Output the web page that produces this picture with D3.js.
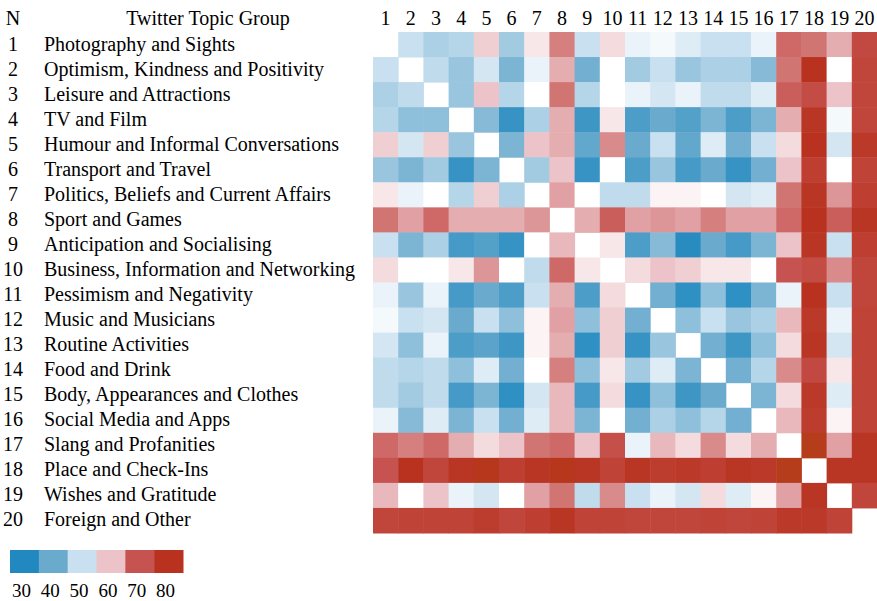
<!DOCTYPE html>
<html>
<head>
<meta charset="utf-8">
<script src="https://cdn.jsdelivr.net/npm/d3@7"></script>
<style>
  body { margin: 0; background: #fff; }
  svg { display: block; font-family: "Liberation Serif", "Times New Roman", serif; }
</style>
</head>
<body>
<div id="chart"></div>
<script>
// topic groups, numbered 1..20
let topics = [
  "Photography and Sights",
  "Optimism, Kindness and Positivity",
  "Leisure and Attractions",
  "TV and Film",
  "Humour and Informal Conversations",
  "Transport and Travel",
  "Politics, Beliefs and Current Affairs",
  "Sport and Games",
  "Anticipation and Socialising",
  "Business, Information and Networking",
  "Pessimism and Negativity",
  "Music and Musicians",
  "Routine Activities",
  "Food and Drink",
  "Body, Appearances and Clothes",
  "Social Media and Apps",
  "Slang and Profanities",
  "Place and Check-Ins",
  "Wishes and Gratitude",
  "Foreign and Other"
];

let ids = d3.range(1, 21);

// cell values, row by row (null = blank diagonal)
let values = [
  [null,50,47,48,59,46,57,66,50,58, 53,54,52,50,50,53,68,67,62,73],
  [50,null,49,45,51,42,53,62,41,55, 46,50,45,47,47,43,67,80,55,74],
  [47,49,null,45,60,48,55,67,48,55, 53,51,53,49,49,52,69,72,60,74],
  [48,44,44,null,43,33,47,62,34,57, 36,40,37,42,36,42,62,79,54,74],
  [59,51,59,45,null,42,60,62,39,65, 40,50,39,52,41,50,58,80,51,78],
  [45,42,46,33,42,null,46,60,33,55, 36,45,35,40,33,41,60,76,55,75],
  [57,53,55,48,59,47,null,63,55,49, 49,56,56,55,51,52,67,79,64,76],
  [67,63,68,62,62,62,64,null,62,69, 63,64,63,66,63,63,68,80,69,79],
  [50,42,47,35,37,33,55,61,null,57, 36,43,31,40,35,42,60,79,50,76],
  [58,55,55,57,64,55,49,68,57,null, 58,60,59,57,57,55,70,72,65,74],
  [53,45,53,35,40,36,50,62,36,58, null,41,32,44,32,42,53,80,50,74],
  [54,50,51,40,50,44,56,63,44,59, 41,null,44,50,45,47,61,78,53,75],
  [51,44,53,36,38,34,56,62,32,59, 33,45,null,41,34,44,58,79,51,75],
  [49,48,49,44,52,41,55,66,44,57, 46,52,42,null,41,48,65,73,57,75],
  [49,46,49,35,42,32,51,61,35,58, 33,44,34,40,null,42,58,78,52,75],
  [53,43,52,42,50,41,52,61,42,55, 41,47,44,48,41,null,61,77,56,75],
  [68,66,68,62,58,60,67,68,60,71, 53,61,58,65,58,62,null,82,63,79],
  [70,80,74,79,81,76,79,81,79,75, 79,77,78,76,79,78,82,null,79,79],
  [61,55,60,53,51,55,63,67,49,65, 50,53,51,58,52,56,63,79,null,74],
  [74,75,75,75,77,74,76,79,75,75, 74,74,74,75,74,75,78,78,75,null]
];

let legendTicks = [30, 40, 50, 60, 70, 80];

let width = 877, height = 601;

const svg = d3.select("#chart").append("svg")
    .attr("width", width)
    .attr("height", height);

let color = d3.scaleLinear()
    .domain([30, 40, 50, 55, 60, 70, 80, 83])
    .range(["#2189c0", "#69aacd", "#c8e0ef", "#ffffff", "#ecc3c8", "#c6534f", "#b8321f", "#b4421a"])
    .clamp(true);

let x = d3.scaleBand().domain(ids).range([373, 877]);
let y = d3.scaleBand().domain(ids).range([32, 533]);

let cells = [];
values.forEach((row, i) => row.forEach((v, j) => {
  if (v != null) cells.push({ r: ids[i], c: ids[j], v: v });
}));

svg.append("g").selectAll("rect")
  .data(cells)
  .join("rect")
    .attr("x", d => x(d.c))
    .attr("y", d => y(d.r))
    .attr("width", x.bandwidth() + 0.5)
    .attr("height", y.bandwidth() + 0.5)
    .attr("fill", d => color(d.v));

// column numbers
svg.append("g")
    .style("font-size", "20px")
    .attr("text-anchor", "middle")
  .selectAll("text")
  .data(ids)
  .join("text")
    .attr("x", d => x(d) + x.bandwidth() / 2)
    .attr("y", 25)
    .text(d => d);

// header
svg.append("text").attr("x", 13).attr("y", 25).attr("text-anchor", "middle")
    .style("font-size", "20px").text("N");
svg.append("text").attr("x", 208).attr("y", 25).attr("text-anchor", "middle")
    .style("font-size", "20px").text("Twitter Topic Group");

// row labels
let rowG = svg.append("g").style("font-size", "20px");
rowG.selectAll("text.num")
  .data(ids)
  .join("text")
    .attr("class", "num")
    .attr("x", 13)
    .attr("y", d => y(d) + y.bandwidth() / 2 + 6)
    .attr("text-anchor", "middle")
    .text(d => d);
rowG.selectAll("text.name")
  .data(topics)
  .join("text")
    .attr("class", "name")
    .attr("x", 44)
    .attr("y", (d, i) => y(ids[i]) + y.bandwidth() / 2 + 6)
    .text(d => d);

// legend
let lx = d3.scaleBand().domain(legendTicks).range([10, 183]);
let legend = svg.append("g");
legend.selectAll("rect")
  .data(legendTicks)
  .join("rect")
    .attr("x", d => lx(d))
    .attr("y", 550)
    .attr("width", lx.bandwidth() + 0.5)
    .attr("height", 23)
    .attr("fill", d => color(d));
legend.selectAll("text")
  .data(legendTicks)
  .join("text")
    .attr("x", d => lx(d) + lx.bandwidth() / 2 - 3)
    .attr("y", 597)
    .attr("text-anchor", "middle")
    .style("font-size", "19px")
    .text(d => d);
</script>
</body>
</html>
